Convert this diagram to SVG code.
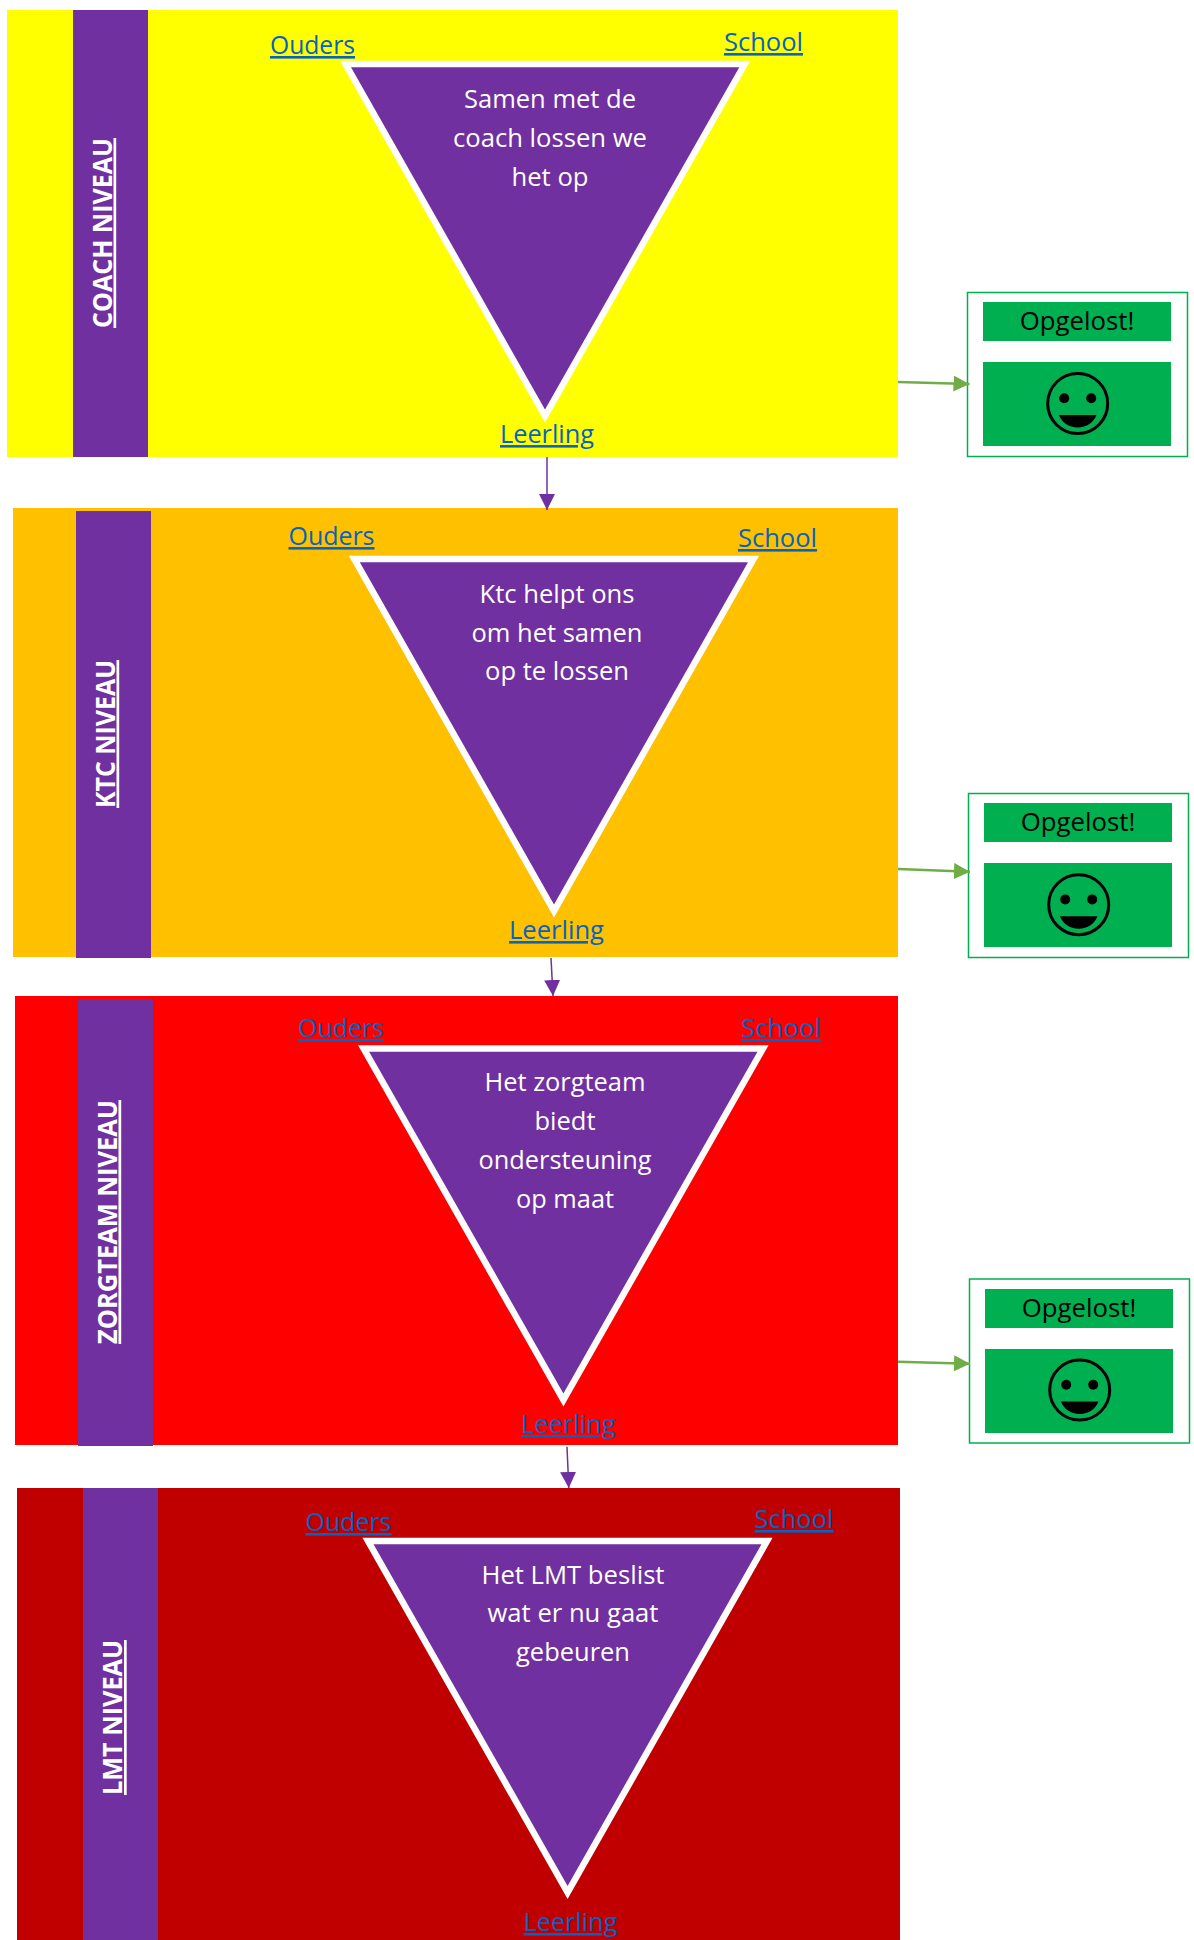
<svg xmlns="http://www.w3.org/2000/svg" xmlns:xlink="http://www.w3.org/1999/xlink" width="1194" height="1940" viewBox="0 0 1194 1940">
<style>
text{font-family:"Open Sans","Noto Sans","Liberation Sans",sans-serif}
.bar{fill:#7030A0}
.tri{fill:#7030A0;stroke:#fff;stroke-width:6.5}
.body{font-size:25px;fill:#fff;text-anchor:middle}
.link{font-size:26px;fill:#0563C1;text-decoration:underline}
.side{font-size:27px;font-weight:700;fill:#fff;text-decoration:underline}
.frame{fill:#fff;stroke:#00B050;stroke-width:1.5}
.g{fill:#00B050}
.ok{font-size:26px;fill:#000;text-anchor:middle}
.pc{stroke:#7030A0;stroke-width:1.5;marker-end:url(#ph);fill:none}
.gc{stroke:#70AD47;stroke-width:2.5;marker-end:url(#gh);fill:none}
</style>
<defs>
<marker id="ph" markerUnits="userSpaceOnUse" markerWidth="16" markerHeight="16" refX="16" refY="8" orient="auto"><path d="M0 0L16 8L0 16Z" fill="#7030A0"/></marker>
<marker id="gh" markerUnits="userSpaceOnUse" markerWidth="16" markerHeight="16" refX="16" refY="8" orient="auto"><path d="M0 0L16 8L0 16Z" fill="#70AD47"/></marker>
<g id="smiley"><circle r="30" fill="none" stroke="#000" stroke-width="3"/><circle cx="-13.5" cy="-5.3" r="5"/><circle cx="13.5" cy="-5.3" r="5"/><path d="M-18.7 11.5H18.7C16 19 9 24 0 24C-9 24-16 19-18.7 11.5Z"/></g>
</defs>
<g id="level-coach">
<rect x="7" y="10" width="891" height="447" fill="#FFFF00"/>
<rect class="bar" x="73" y="10" width="75" height="447"/>
<text class="side" transform="translate(111.5,328) rotate(-90)" textLength="190" lengthAdjust="spacingAndGlyphs">COACH NIVEAU</text>
<polygon class="tri" points="345.5,64 744.8,64 545,416"/>
<text class="link" x="270" y="54" textLength="85" lengthAdjust="spacingAndGlyphs">Ouders</text>
<text class="link" x="724" y="51" textLength="79" lengthAdjust="spacingAndGlyphs">School</text>
<text class="link" x="500" y="443" textLength="94" lengthAdjust="spacingAndGlyphs">Leerling</text>
<text class="body" x="550" y="108" textLength="172" lengthAdjust="spacingAndGlyphs">Samen met de</text>
<text class="body" x="550" y="147" textLength="194" lengthAdjust="spacingAndGlyphs">coach lossen we</text>
<text class="body" x="550" y="185.5" textLength="77" lengthAdjust="spacingAndGlyphs">het op</text>
</g>
<g id="level-ktc">
<rect x="13" y="508" width="885" height="449" fill="#FFC000"/>
<rect class="bar" x="76" y="511" width="75" height="447"/>
<text class="side" transform="translate(114.5,808) rotate(-90)" textLength="148" lengthAdjust="spacingAndGlyphs">KTC NIVEAU</text>
<polygon class="tri" points="354.3,559 753.5,559 554,911"/>
<text class="link" x="288.5" y="545" textLength="86" lengthAdjust="spacingAndGlyphs">Ouders</text>
<text class="link" x="738" y="547" textLength="79" lengthAdjust="spacingAndGlyphs">School</text>
<text class="link" x="509" y="939" textLength="95" lengthAdjust="spacingAndGlyphs">Leerling</text>
<text class="body" x="557" y="603" textLength="155" lengthAdjust="spacingAndGlyphs">Ktc helpt ons</text>
<text class="body" x="557" y="641.5" textLength="171" lengthAdjust="spacingAndGlyphs">om het samen</text>
<text class="body" x="557" y="680" textLength="144" lengthAdjust="spacingAndGlyphs">op te lossen</text>
</g>
<g id="level-zorgteam">
<rect x="15" y="996" width="883" height="449" fill="#FF0000"/>
<rect class="bar" x="78" y="999" width="75" height="447"/>
<text class="side" transform="translate(116.5,1344) rotate(-90)" textLength="244" lengthAdjust="spacingAndGlyphs">ZORGTEAM NIVEAU</text>
<polygon class="tri" points="363.6,1048.5 763,1048.5 563.4,1400"/>
<text class="link" x="298" y="1037" textLength="86" lengthAdjust="spacingAndGlyphs">Ouders</text>
<text class="link" x="741" y="1037" textLength="80" lengthAdjust="spacingAndGlyphs">School</text>
<text class="link" x="521" y="1433" textLength="94.5" lengthAdjust="spacingAndGlyphs">Leerling</text>
<text class="body" x="565" y="1091" textLength="161" lengthAdjust="spacingAndGlyphs">Het zorgteam</text>
<text class="body" x="565" y="1130" textLength="61" lengthAdjust="spacingAndGlyphs">biedt</text>
<text class="body" x="565" y="1169" textLength="173" lengthAdjust="spacingAndGlyphs">ondersteuning</text>
<text class="body" x="565" y="1207.5" textLength="98" lengthAdjust="spacingAndGlyphs">op maat</text>
</g>
<g id="level-lmt">
<rect x="17" y="1488" width="883" height="452" fill="#C00000"/>
<rect class="bar" x="83" y="1488" width="75" height="452"/>
<text class="side" transform="translate(122,1795) rotate(-90)" textLength="155" lengthAdjust="spacingAndGlyphs">LMT NIVEAU</text>
<polygon class="tri" points="368,1541 767,1541 567.6,1892.5"/>
<text class="link" x="305.5" y="1531" textLength="86" lengthAdjust="spacingAndGlyphs">Ouders</text>
<text class="link" x="754.5" y="1528" textLength="79" lengthAdjust="spacingAndGlyphs">School</text>
<text class="link" x="523.5" y="1931" textLength="94" lengthAdjust="spacingAndGlyphs">Leerling</text>
<text class="body" x="573" y="1584" textLength="183" lengthAdjust="spacingAndGlyphs">Het LMT beslist</text>
<text class="body" x="573" y="1622" textLength="171" lengthAdjust="spacingAndGlyphs">wat er nu gaat</text>
<text class="body" x="573" y="1661" textLength="114" lengthAdjust="spacingAndGlyphs">gebeuren</text>
</g>
<g id="solved-1">
<rect class="frame" x="967.5" y="292.5" width="220" height="164"/>
<rect class="g" x="983" y="302" width="188" height="39"/>
<rect class="g" x="983" y="362" width="188" height="84"/>
<text class="ok" x="1077" y="330" textLength="114.5" lengthAdjust="spacingAndGlyphs">Opgelost!</text>
<use xlink:href="#smiley" href="#smiley" x="1077.7" y="403.5"/>
</g>
<g id="solved-2">
<rect class="frame" x="968.5" y="793.5" width="220" height="164"/>
<rect class="g" x="984" y="803" width="188" height="39"/>
<rect class="g" x="984" y="863" width="188" height="84"/>
<text class="ok" x="1078" y="831" textLength="114.5" lengthAdjust="spacingAndGlyphs">Opgelost!</text>
<use xlink:href="#smiley" href="#smiley" x="1078.7" y="904.7"/>
</g>
<g id="solved-3">
<rect class="frame" x="969.5" y="1279" width="220" height="164"/>
<rect class="g" x="985" y="1289" width="188" height="39"/>
<rect class="g" x="985" y="1349" width="188" height="84"/>
<text class="ok" x="1079" y="1317" textLength="114.5" lengthAdjust="spacingAndGlyphs">Opgelost!</text>
<use xlink:href="#smiley" href="#smiley" x="1079.7" y="1390"/>
</g>
<g id="connectors">
<line class="pc" x1="547" y1="457" x2="547" y2="510"/>
<line class="pc" x1="551" y1="958" x2="553" y2="996"/>
<line class="pc" x1="567" y1="1446.7" x2="568.8" y2="1488"/>
<line class="gc" x1="898" y1="382" x2="969.5" y2="384"/>
<line class="gc" x1="898" y1="869" x2="970" y2="871.7"/>
<line class="gc" x1="898" y1="1361.7" x2="970" y2="1363.7"/>
</g>
</svg>
